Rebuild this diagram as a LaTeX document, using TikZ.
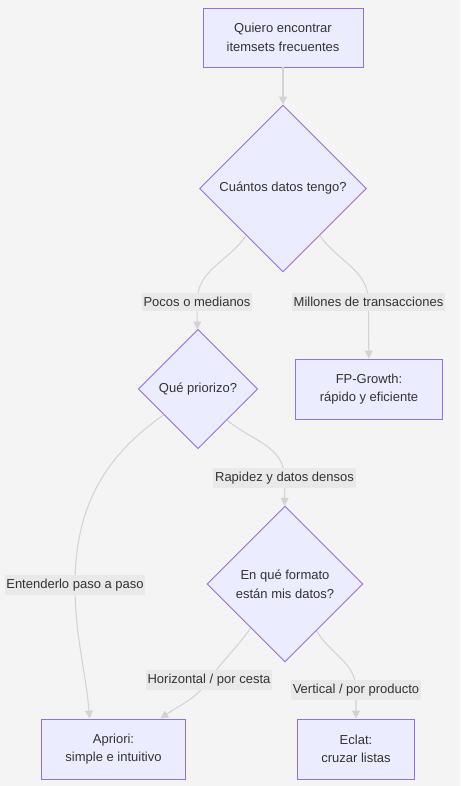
\documentclass[tikz,border=0pt]{standalone}
\usepackage{fontspec}
\setmainfont{Liberation Sans}
\usetikzlibrary{shapes.geometric,arrows.meta}
\definecolor{pagebg}{HTML}{F4F4F4}
\definecolor{nodefill}{HTML}{ECECFF}
\definecolor{nodeline}{HTML}{9370DB}
\definecolor{edgegray}{HTML}{D3D3D3}
\definecolor{lblbg}{HTML}{E9E9E9}
\definecolor{txt}{HTML}{333333}
\newcommand{\flowfont}{\fontsize{7.4}{10.6}\selectfont}
\begin{document}
\begin{tikzpicture}[x=0.02cm,y=0.02cm,
    box/.style={draw=nodeline,fill=nodefill,line width=0.55pt,align=center,text=txt,
        font=\flowfont,minimum height=1.2cm,inner sep=0pt},
    decision/.style={diamond,aspect=1,draw=nodeline,fill=nodefill,line width=0.55pt,
        align=center,text=txt,font=\flowfont,inner sep=0pt},
    edge/.style={draw=edgegray,line width=0.6pt,-{Triangle[length=4.5pt,width=4.5pt]}},
    lbl/.style={fill=lblbg,text=txt,font=\flowfont,inner xsep=1pt,inner ysep=2.4pt}]
    \fill[pagebg] (0,0) rectangle (460,-786);
    \useasboundingbox (0,0) rectangle (460,-786);
    \node[box,minimum width=3.2cm,minimum height=1.18cm] (start) at (283,-37.5) {Quiero encontrar\\itemsets frecuentes};
    \node[decision,minimum width=3.34cm,minimum height=3.34cm] (d1) at (283,-188.5) {Cuántos datos tengo?};
    \node[decision,minimum width=2.39cm,minimum height=2.39cm] (d2) at (198,-389) {Qué priorizo?};
    \node[box,minimum width=2.93cm] (fp) at (369,-389) {FP-Growth:\\rápido y eficiente};
    \node[decision,minimum width=3.12cm,minimum height=3.12cm] (d3) at (285,-584) {En qué formato\\están mis datos?};
    \node[box,minimum width=2.88cm] (apr) at (113.5,-749) {Apriori:\\simple e intuitivo};
    \node[box,minimum width=2.34cm] (ecl) at (356,-749) {Eclat:\\cruzar listas};
    \coordinate (c1) at (197,-302);
    \coordinate (c2) at (368.5,-302);
    \coordinate (c3) at (284.5,-478);
    \coordinate (c4) at (75,-585);
    \coordinate (c5) at (209,-680);
    \coordinate (c6) at (356,-690);
    \draw[edge] (start) -- (d1);
    \draw[edge] (d1.232) to[out=-125,in=90] (c1) -- (d2);
    \draw[edge] (d1.-52) to[out=-55,in=90] (c2) -- (fp);
    \draw[edge] (d2.217) to[out=215,in=90] (c4) to[out=-90,in=95] (apr.128);
    \draw[edge] (d2.-47) to[out=-40,in=90] (c3) -- (d3);
    \draw[edge] (d3.232) to[out=235,in=55] (c5) to[out=235,in=35] (apr.33);
    \draw[edge] (d3.-56) to[out=-60,in=90] (c6) -- (ecl);
    \foreach \c/\t in {c1/{Pocos o medianos},c2/{Millones de transacciones},
        c3/{Rapidez y datos densos},c4/{Entenderlo paso a paso},
        c5/{Horizontal / por cesta},c6/{Vertical / por producto}}
    {\node[lbl] (l\c) at (\c) {\t};}
\end{tikzpicture}
\end{document}
